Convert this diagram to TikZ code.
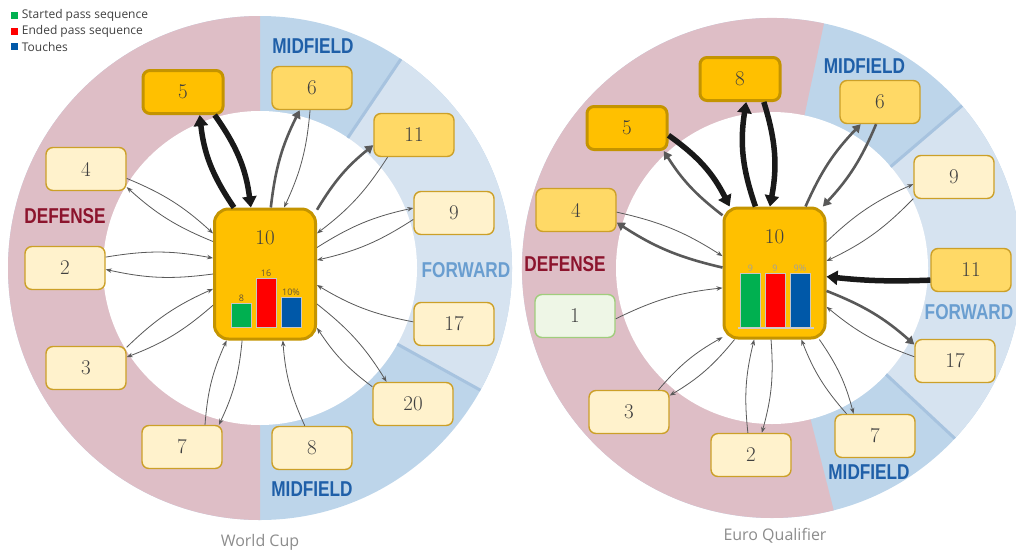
\documentclass[tikz,border=0pt]{standalone}
\usepackage{fontspec}
\usepackage{tikz}
\usetikzlibrary{arrows.meta,positioning}
\newfontfamily\notefont{Open Sans}
\newfontfamily\zonefont{Liberation Sans}[FakeStretch=0.8]

\definecolor{defzone}{RGB}{222,190,198}
\definecolor{midzone}{RGB}{189,213,234}
\definecolor{fwdzone}{RGB}{214,227,240}
\definecolor{zoneline}{RGB}{167,195,223}
\definecolor{defred}{RGB}{140,20,45}
\definecolor{midblue}{RGB}{31,95,168}
\definecolor{fwdblue}{RGB}{106,158,208}
\definecolor{hubgold}{RGB}{255,192,0}
\definecolor{hubedge}{RGB}{196,148,0}
\definecolor{warmgold}{RGB}{255,217,102}
\definecolor{creamfill}{RGB}{255,242,204}
\definecolor{goldedge}{RGB}{204,160,40}
\definecolor{greenfill}{RGB}{238,246,230}
\definecolor{greenedge}{RGB}{160,205,125}
\definecolor{bargreen}{RGB}{0,176,80}
\definecolor{barred}{RGB}{255,0,0}
\definecolor{barblue}{RGB}{0,88,168}
\definecolor{linkgray}{RGB}{89,89,89}
\definecolor{textgray}{RGB}{64,64,64}

\begin{document}
\begin{tikzpicture}[
    x=1pt, y=1pt,
    player/.style={
        draw=goldedge,
        fill=creamfill,
        line width=1.4pt,
        rounded corners=7pt,
        minimum width=80pt,
        minimum height=43pt,
        font=\fontsize{21}{21}\selectfont,
        text=textgray
    },
    often/.style={player, fill=warmgold},         % many passes
    most/.style={player, fill=hubgold, draw=hubedge, line width=3pt},
    newcomer/.style={player, fill=greenfill, draw=greenedge},
    hub/.style={
        draw=hubedge,
        fill=hubgold,
        line width=3pt,
        rounded corners=14pt,
        minimum width=101pt,
        minimum height=130pt
    },
    hubnum/.style={font=\fontsize{21}{21}\selectfont, text=textgray},
    bar/.style={draw=gray!45, line width=0.6pt},
    barnum/.style={font=\notefont\fontsize{9}{9}\selectfont, inner sep=1.5pt},
    zone/.style={font=\zonefont\bfseries\fontsize{21.5}{22}\selectfont, inner sep=0pt},
    caption/.style={font=\notefont\fontsize{16}{16}\selectfont, text=gray!90, anchor=base},
    key/.style={minimum size=7pt, inner sep=0pt},
    keytext/.style={font=\notefont\fontsize{12}{12}\selectfont, text=textgray, inner sep=1pt},
    link/.style={draw=linkgray, line width=0.8pt, -{Stealth[length=6pt,width=4.5pt]}, bend left=10},
    strong/.style={link, line width=2.6pt, -{Triangle[length=8pt,width=9pt]}},
    heavy/.style={link, draw=black!90, line width=5.5pt, -{Triangle[length=11pt,width=14pt]}, bend left=14}
]
\useasboundingbox (0,0) rectangle (1016,-549);

% World Cup ring
\begin{scope}[shift={(260,-268)}]
    \fill[midzone] (0,0) circle[radius=252];
    \fill[defzone] (0,0) -- (90:252) arc[start angle=90, end angle=270, radius=252] -- cycle;
    \fill[fwdzone] (0,0) -- (-29:252) arc[start angle=-29, end angle=56, radius=252] -- cycle;
    \fill[white] (0,0) circle[radius=157];
    \draw[zoneline, line width=3pt] (56:157) -- (56:252) (-29:157) -- (-29:252);
\end{scope}

% Euro Qualifier ring
\begin{scope}[shift={(772,-268)}]
    \fill[midzone] (0,0) circle[radius=250];
    \fill[defzone] (0,0) -- (78:250) arc[start angle=78, end angle=284.3, radius=250] -- cycle;
    \fill[fwdzone] (0,0) -- (-43:250) arc[start angle=-43, end angle=40.5, radius=250] -- cycle;
    \fill[white] (0,0) circle[radius=156];
    \draw[zoneline, line width=3pt] (40.5:156) -- (40.5:250) (-43:156) -- (-43:250);
\end{scope}

% legend
\foreach \c/\t [count=\i] in {bargreen/Started pass sequence, barred/Ended pass sequence, barblue/Touches} {
    \node[key, fill=\c] (key\i) at (14.5,-15.5-15.7*\i+15.7) {};
    \node[keytext, right=2.5pt of key\i] (keytext\i) {\t};
}

% zone labels
\node[zone, text=midblue] (wcmidtop) at (313,-46) {MIDFIELD};
\node[zone, text=defred] (wcdef) at (65,-216) {DEFENSE};
\node[zone, text=fwdblue] (wcfwd) at (466,-270) {FORWARD};
\node[zone, text=midblue] (wcmidbot) at (312,-489) {MIDFIELD};
\node[zone, text=midblue] (eqmidtop) at (864.5,-66) {MIDFIELD};
\node[zone, text=defred] (eqdef) at (565,-264) {DEFENSE};
\node[zone, text=fwdblue] (eqfwd) at (969,-312) {FORWARD};
\node[zone, text=midblue] (eqmidbot) at (869,-472) {MIDFIELD};

\node[caption] (wccap) at (260,-546) {World Cup};
\node[caption] (eqcap) at (775,-540) {Euro Qualifier};

% World Cup players
\node[hub] (a10) at (265,-274) {};
\node[most] (a5) at (183,-92) {5};
\node[often] (a6) at (312,-88) {6};
\node[often] (a11) at (414,-135) {11};
\node[player] (a4) at (86,-169) {4};
\node[player] (a9) at (454,-213) {9};
\node[player] (a2) at (65,-268) {2};
\node[player] (a17) at (454,-324) {17};
\node[player] (a3) at (86,-368) {3};
\node[player] (a20) at (413,-404) {20};
\node[player] (a7) at (182,-447) {7};
\node[player] (a8) at (312,-448) {8};

\begin{scope}[shift={(a10.center)}]
    \node[hubnum] (a10num) at (0,36) {10};
    \foreach \x/\h/\c/\v [count=\i] in {-23.5/24/bargreen/8, 1/49/barred/16, 26/30/barblue/10\%} {
        \draw[bar, fill=\c] (\x-10,-53) rectangle ++(20,\h);
        \node[barnum, text={rgb,255:red,100;green,85;blue,55}, above] (abar\i) at (\x,-53+\h) {\v};
    }
\end{scope}

% Euro Qualifier players
\node[hub] (b10) at (774.5,-273) {};
\node[most] (b8) at (740,-79) {8};
\node[most] (b5) at (627,-128) {5};
\node[often] (b6) at (880,-102) {6};
\node[player] (b9) at (954,-177) {9};
\node[often] (b4) at (576,-210) {4};
\node[often] (b11) at (971,-270) {11};
\node[newcomer] (b1) at (575,-316) {1};
\node[player] (b17) at (955,-361) {17};
\node[player] (b3) at (629,-412) {3};
\node[player] (b7) at (875,-436) {7};
\node[player] (b2) at (751,-455) {2};

\begin{scope}[shift={(b10.center)}]
    \node[hubnum] (b10num) at (0,36) {10};
    \foreach \x/\c/\v [count=\i] in {-24/bargreen/9, 0.5/barred/9, 25.5/barblue/9\%} {
        \draw[bar, fill=\c] (\x-10,-55) rectangle ++(20,55);
        \node[barnum, text=gray!75, above] (bbar\i) at (\x,0) {\v};
    }
    \draw[gray!40, line width=1.2pt] (-37,-55) -- (39,-55);
\end{scope}

% World Cup passes
\draw[heavy] (a10.115) to (a5.-54);
\draw[heavy] (a5.-36) to (a10.102);
\draw[strong] (a10.85) to (a6.-119);
\draw[link] (a6.-95) to (a10.74);
\draw[strong] (a10.51) to (a11.-166);
\draw[link] (a11.-140) to (a10.38);
\draw[link] (a10.27) to (a9.173);
\draw[link] (a9.-171) to (a10.15);
\draw[link] (a17.177) to (a10.-12);
\draw[link] (a10.-30) to (a20.140);
\draw[link] (a20.157) to (a10.-46);
\draw[link] (a8.108) to (a10.-75);
\draw[link] (a7.44) to (a10.-120);
\draw[link] (a10.-109) to (a7.31);
\draw[link] (a3.27) to (a10.-164);
\draw[link] (a10.-149) to (a3.15);
\draw[link] (a2.15) to (a10.163);
\draw[link] (a10.180) to (a2.-2);
\draw[link] (a4.-13) to (a10.142);
\draw[link] (a10.148) to (a4.-24);

% Euro Qualifier passes
\draw[heavy] (b10.106) to (b8.-75);
\draw[heavy] (b8.-44) to (b10.94);
\draw[heavy] (b5.-10) to (b10.124);
\draw[strong] (b10.132) to (b5.-32);
\draw[strong] (b10.65) to (b6.-131);
\draw[strong] (b6.-100) to (b10.54);
\draw[link] (b10.31) to (b9.-170);
\draw[link] (b9.-152) to (b10.13);
\draw[heavy, bend left=4] (b11.-166) to (b10.-4);
\draw[strong] (b10.-19) to (b17.158);
\draw[link] (b17.174) to (b10.-33);
\draw[link] (b7.142) to (b10.-68);
\draw[link] (b10.-56) to (b7.134);
\draw[link] (b2.98) to (b10.-107);
\draw[link] (b10.-93) to (b2.64);
\draw[link] (b3.37) to (b10.-129);
\draw[link] (b10.-121) to (b3.22);
\draw[link] (b1.-4) to (b10.-164);
\draw[link] (b4.-3) to (b10.162);
\draw[strong] (b10.174) to (b4.-17);

\end{tikzpicture}
\end{document}
